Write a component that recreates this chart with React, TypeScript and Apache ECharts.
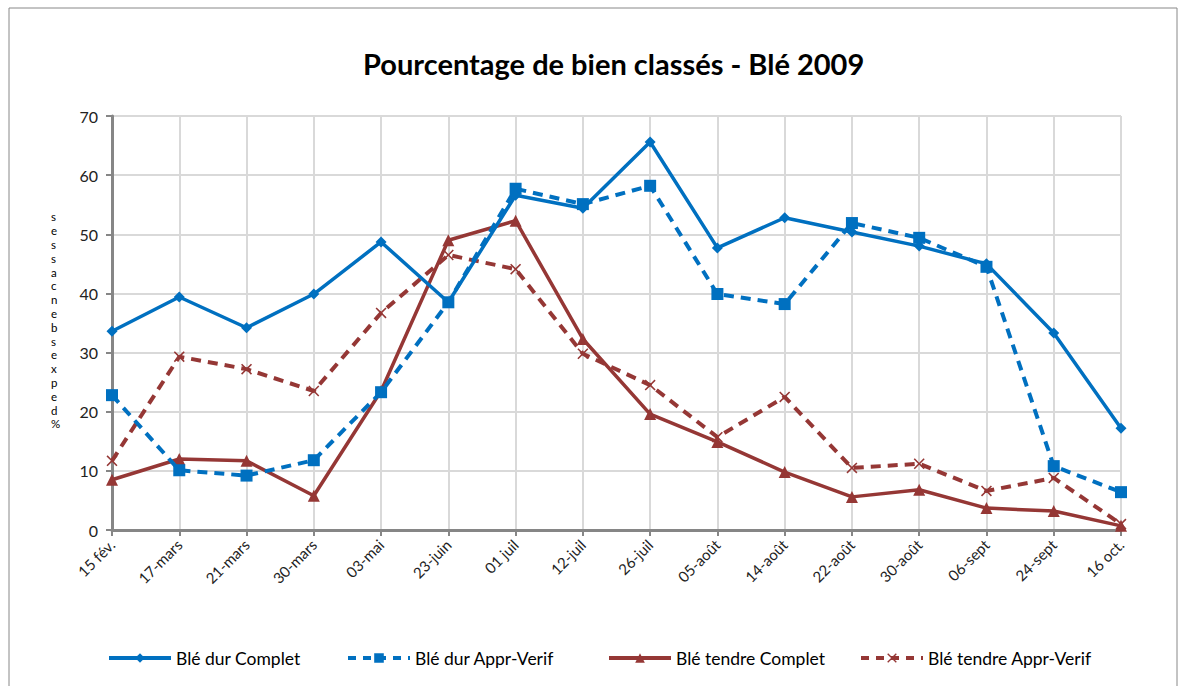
import React, { useEffect, useRef } from "react";
import * as echarts from "echarts";

const categories = [
  "15 fév.", "17-mars", "21-mars", "30-mars", "03-mai", "23-juin", "01 juil", "12-juil",
  "26-juil", "05-août", "14-août", "22-août", "30-août", "06-sept", "24-sept", "16 oct.",
];

const bleDurComplet = [33.6, 39.4, 34.2, 39.9, 48.7, 38.5, 56.6, 54.4, 65.6, 47.7, 52.8, 50.4, 48.0, 45.0, 33.3, 17.2];
const bleDurApprVerif = [22.8, 10.1, 9.2, 11.8, 23.3, 38.5, 57.7, 55.1, 58.2, 39.9, 38.2, 51.9, 49.4, 44.5, 10.8, 6.4];
const bleTendreComplet = [8.5, 12.0, 11.7, 5.8, 23.5, 49.0, 52.3, 32.3, 19.6, 14.9, 9.8, 5.6, 6.8, 3.7, 3.2, 0.7];
const bleTendreApprVerif = [11.7, 29.3, 27.2, 23.5, 36.7, 46.5, 44.1, 29.8, 24.5, 15.7, 22.5, 10.5, 11.2, 6.6, 8.8, 1.0];

const seriesNames = ["Blé dur Complet", "Blé dur Appr-Verif", "Blé tendre Complet", "Blé tendre Appr-Verif"];
const yAxisLabelGlyphs = ["s", "e", "s", "s", "a", "c", "n", "e", "b", "s", "e", "x", "p", "e", "d", "%"];

const BLUE = "#0070C0";
const RED = "#953735";
const FONT = "Lato, 'Noto Sans', sans-serif";
const CROSS = "path://M1,0 L5,4 L9,0 L10,1 L6,5 L10,9 L9,10 L5,6 L1,10 L0,9 L4,5 L0,1 Z";

export default function App() {
  const ref = useRef<HTMLDivElement>(null);

  useEffect(() => {
    if (!ref.current) return;
    const chart = echarts.init(ref.current, null, { renderer: "svg" });
    const legendLefts = [102, 341, 602, 854];
    const legendDash = [false, true, false, true];
    const legendColors = [BLUE, BLUE, RED, RED];
    chart.setOption({
      animation: false,
      backgroundColor: "#ffffff",
      textStyle: { fontFamily: FONT },
      title: {
        text: "Pourcentage de bien classés - Blé 2009",
        left: 358,
        top: 44,
        textStyle: { fontFamily: FONT, fontSize: 29, fontWeight: "bold", color: "#000" },
      },
      legend: seriesNames.map((n, i) => ({
        data: [
          {
            name: n,
            lineStyle: { width: 4, color: legendColors[i], type: legendDash[i] ? [8, 7] : "solid" },
          },
        ],
        left: legendLefts[i],
        top: 644,
        itemWidth: 62,
        itemHeight: 12,
        itemGap: 0,
        textStyle: { fontFamily: FONT, fontSize: 17.5, color: "#000" },
      })),
      grid: { left: 112, right: 65, top: 116, bottom: 156, containLabel: false },
      xAxis: {
        type: "category",
        data: categories,
        boundaryGap: false,
        axisLine: { lineStyle: { color: "#868686", width: 3 } },
        axisTick: { show: true, length: 6, alignWithLabel: true, lineStyle: { color: "#868686", width: 2 } },
        splitLine: { show: true, lineStyle: { color: "#D9D9D9", width: 2 } },
        axisLabel: {
          rotate: 45,
          interval: 0,
          margin: 12,
          fontSize: 15,
          color: "#222",
          fontFamily: FONT,
        },
      },
      yAxis: {
        type: "value",
        min: 0,
        max: 70,
        interval: 10,
        axisLine: { show: true, lineStyle: { color: "#868686", width: 3 } },
        axisTick: { show: true, length: 6, lineStyle: { color: "#868686", width: 2 } },
        splitLine: { show: true, lineStyle: { color: "#D9D9D9", width: 2 } },
        axisLabel: { margin: 14, fontSize: 16, color: "#222", fontFamily: FONT },
      },
      graphic: [
        {
          type: "rect",
          shape: { x: 9, y: 8, width: 1168, height: 700 },
          style: { fill: "none", stroke: "#888888", lineWidth: 1 },
          silent: true,
        },
        {
          type: "text",
          left: 51,
          top: 210,
          style: {
            text: yAxisLabelGlyphs.join("\n"),
            fontFamily: FONT,
            fontSize: 11.5,
            lineHeight: 13.8,
            fill: "#000",
            align: "center",
          },
        },
      ],
      series: [
        {
          name: seriesNames[0],
          type: "line",
          data: bleDurComplet,
          symbol: "diamond",
          symbolSize: 11,
          itemStyle: { color: BLUE },
          lineStyle: { color: BLUE, width: 3.5 },
          z: 4,
        },
        {
          name: seriesNames[1],
          type: "line",
          data: bleDurApprVerif,
          symbol: "rect",
          symbolSize: 12,
          itemStyle: { color: BLUE },
          lineStyle: { color: BLUE, width: 4, type: [10, 7] },
          z: 3,
        },
        {
          name: seriesNames[2],
          type: "line",
          data: bleTendreComplet,
          symbol: "triangle",
          symbolSize: 12,
          itemStyle: { color: RED },
          lineStyle: { color: RED, width: 3.5 },
          z: 2,
        },
        {
          name: seriesNames[3],
          type: "line",
          data: bleTendreApprVerif,
          symbol: CROSS,
          symbolSize: 11,
          itemStyle: { color: RED },
          lineStyle: { color: RED, width: 4, type: [10, 7] },
          z: 1,
        },
      ],
    });
    return () => chart.dispose();
  }, []);

  return (
    <div
      ref={ref}
      style={{ position: "fixed", left: 0, top: 0, width: 1186, height: 686, background: "#fff" }}
    />
  );
}
